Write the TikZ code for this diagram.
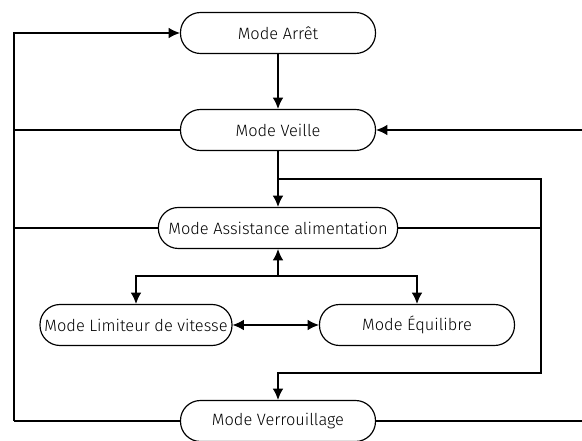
\documentclass[tikz,border=0pt]{standalone}
\usepackage{fontspec}
\IfFontExistsTF{Fira Sans Light}{\setmainfont{Fira Sans Light}}{\setmainfont{Fira Sans}}
\usetikzlibrary{arrows.meta}

\tikzset{
  modebox/.style={draw, line width=1pt, rounded corners=0.6cm, minimum width=5.85cm,
    minimum height=1.23cm, inner xsep=0.3cm, font=\fontsize{14}{16}\selectfont},
  flow/.style={line width=1pt, -{Latex[length=3.4mm,width=3.2mm]}},
  link/.style={line width=1pt}
}

\begin{document}
\begin{tikzpicture}
\useasboundingbox (0,0) rectangle (17.46,13.23);

\node [modebox] (arret) at (8.34,12.24) {Mode Arrêt};
\node [modebox] (veille) at (8.34,9.33) {Mode Veille};
\node [modebox] (assist) at (8.34,6.39) {Mode Assistance alimentation};
\node [modebox, minimum width=5.76cm, inner xsep=1pt] (limiteur) at (4.08,3.48) {Mode Limiteur de vitesse};
\node [modebox] (equilibre) at (12.51,3.48) {Mode Équilibre};
\node [modebox] (verrou) at (8.34,0.6) {Mode Verrouillage};

% left bus
\coordinate (lt) at (0.42,12.24);
\coordinate (lb) at (0.42,0.6);
\draw[flow] (lb) -- (lt) -- (arret);
\draw[link] (veille) -- (veille -| lt);
\draw[link] (assist) -- (assist -| lt);
\draw[link] (verrou) -- (lb);

% right side
\coordinate (rv) at (17.46,9.33);
\draw[flow] (rv) -- (veille);
\draw[link] (verrou) -- (verrou -| rv);

\draw[flow] (arret) -- (veille);
\draw[flow] (veille) -- (assist);

% loop to Verrouillage
\coordinate (jv) at (8.34,7.86);
\coordinate (jr1) at (16.23,7.86);
\coordinate (jr2) at (16.23,2.04);
\coordinate (jb) at (8.34,2.04);
\draw[flow] (jv) -- (jr1) -- (jr2) -- (jb) -- (verrou);
\draw[link] (assist) -- (assist -| jr1);

% lower modes
\coordinate (ja) at (8.34,4.95);
\draw[flow] (ja) -- (assist);
\draw[flow] (ja) -| (limiteur);
\draw[flow] (ja) -| (equilibre);
\draw[flow, {Latex[length=3.4mm,width=3.2mm]}-{Latex[length=3.4mm,width=3.2mm]}] (limiteur) -- (equilibre);

\end{tikzpicture}
\end{document}
